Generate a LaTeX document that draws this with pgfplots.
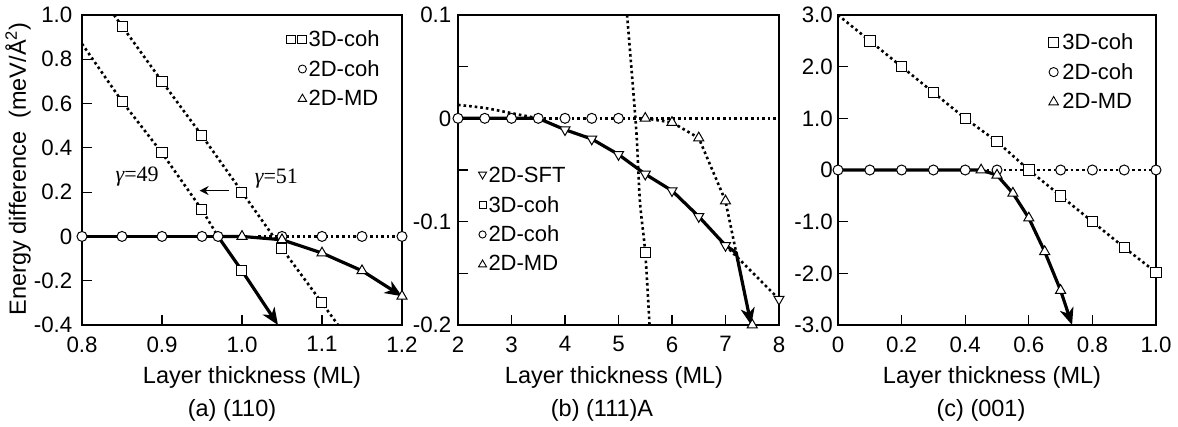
\documentclass[border=0pt]{standalone}
\usepackage{fontspec}
\setmainfont{Liberation Sans}
\newfontfamily\serifrm{Liberation Serif}
\usepackage{pgfplots}
\pgfplotsset{compat=1.18}
\usetikzlibrary{arrows.meta}

\tikzset{lg/.style={draw=black, fill=white, line width=0.9pt, line join=miter, solid}}
\pgfplotsset{
  myaxis/.style={
    scale only axis, height=310pt, anchor=south west,
    axis line style={line width=1.2pt},
    every tick/.style={line width=1.2pt, black},
    tick align=inside, tick pos=left, major tick length=10pt,
    tick label style={font=\fontsize{22.3}{25}\selectfont},
    xticklabel style={yshift=-8pt},
    /pgf/number format/assume math mode=true,
    clip=false,
    legend style={draw=none, fill=none, font=\fontsize{22}{25}\selectfont,
      row sep=9.2pt, inner sep=0pt, nodes={inner sep=1.5pt}},
    legend cell align=left,
  },
  dotl/.style={black, line width=2.6pt, dash pattern=on 2.6pt off 3.0pt, no marks, forget plot},
  thk/.style={black, line width=3.2pt, no marks, forget plot, line join=round},
  arr/.style={-{Stealth[length=17pt,width=14pt,inset=5pt]}},
  mk/.style={only marks, forget plot, mark options={fill=white, draw=black, line width=1pt, solid}},
  mkdown/.style={only marks, forget plot, mark options={rotate=180, fill=white, draw=black, line width=1pt, solid}},
}

\begin{document}
\begin{tikzpicture}
\path (0pt,0pt) rectangle (1178pt,-427pt);

% ---------------- (a) (110) ----------------
\begin{axis}[myaxis, at={(82pt,-325pt)}, width=320pt,
  yticklabel style={inner sep=1.5pt, xshift=-8pt},
  xmin=0.8, xmax=1.2, ymin=-0.4, ymax=1.0,
  xtick={0.8,0.9,1.0,1.1,1.2}, xticklabels={0.8,0.9,1.0,1.1,1.2},
  ytick={-0.4,-0.2,0,0.2,0.4,0.6,0.8,1.0},
  yticklabels={-0.4,-0.2,0,0.2,0.4,0.6,0.8,1.0},
  legend style={at={(0.935,0.955)}, anchor=north east}]
\addplot[dotl] coordinates {(0.84,1.0)(0.85,0.95)(0.9,0.70)(0.95,0.455)(1.0,0.20)(1.05,-0.055)(1.1,-0.30)(1.12,-0.40)};
\addplot[dotl] coordinates {(0.8,0.87)(0.85,0.61)(0.9,0.377)(0.95,0.12)(0.97,0.0)};
\addplot[dotl] coordinates {(1.02,0)(1.2,0)};
\addplot[thk] coordinates {(0.8,0)(0.97,0)};
\addplot[thk, arr] coordinates {(0.97,0)(1.0,-0.155)(1.045,-0.4)};
\addplot[thk, arr] coordinates {(0.97,0)(1.0,0)(1.05,-0.015)(1.1,-0.075)(1.15,-0.155)(1.2,-0.27)};
\addplot[mk, mark=square*, mark size=5pt] coordinates {(0.85,0.95)(0.9,0.70)(0.95,0.455)(1.0,0.20)(1.05,-0.055)(1.1,-0.30)(0.85,0.61)(0.9,0.377)(0.95,0.12)(1.0,-0.155)};
\addplot[mk, mark=*, mark size=5pt] coordinates {(0.8,0)(0.85,0)(0.9,0)(0.95,0)(0.97,0)(1.05,0)(1.1,0)(1.15,0)(1.2,0)};
\addplot[mk, mark=triangle*, mark size=5.8pt] coordinates {(1.0,0)(1.05,-0.015)(1.1,-0.075)(1.15,-0.155)(1.2,-0.27)};
\addlegendimage{legend image code/.code={\draw[lg] (0pt,-4.3pt) rectangle (8.6pt,4.3pt) (11pt,-4.3pt) rectangle (19.6pt,4.3pt);}}
\addlegendentry{3D-coh}
\addlegendimage{legend image code/.code={\path[draw=none,fill=none] (0pt,0pt) -- (19.6pt,0pt); \draw[lg] (15.6pt,0pt) circle (4pt);}}
\addlegendentry{2D-coh}
\addlegendimage{legend image code/.code={\path[draw=none,fill=none] (0pt,0pt) -- (19.6pt,0pt); \draw[lg] (15.6pt,4.2pt) -- (11.4pt,-3pt) -- (19.8pt,-3pt) -- cycle;}}
\addlegendentry{2D-MD}
\node[font=\serifrm\fontsize{22}{24}\selectfont] at (axis cs:0.869,0.27) {{\itshape γ}=49};
\node[font=\serifrm\fontsize{22}{24}\selectfont] at (axis cs:1.043,0.26) {{\itshape γ}=51};
\draw[line width=1.8pt, -{Stealth[length=9pt,width=9pt]}] (axis cs:0.984,0.207) -- (axis cs:0.947,0.207);
\end{axis}

% ---------------- (b) (111)A ----------------
\begin{axis}[myaxis, at={(458pt,-325pt)}, width=321pt,
  yticklabel style={inner sep=1.5pt, xshift=-5pt},
  xmin=2, xmax=8, ymin=-0.2, ymax=0.1,
  xtick={2,3,4,5,6,7,8}, xticklabels={2,3,4,5,6,7,8},
  ytick={-0.2,-0.15,-0.1,-0.05,0,0.05,0.1},
  yticklabels={-0.2,,-0.1,,0,,0.1},
  legend style={at={(0.062,0.515)}, anchor=north west}]
\addplot[dotl] coordinates {(3.5,0)(8,0)};
\addplot[dotl, smooth] coordinates {(2,0.013)(2.5,0.01)(3,0.005)(3.5,0)};
\addplot[dotl, smooth] coordinates {(5.16,0.1)(5.33,-0.01)(5.4,-0.08)(5.5,-0.13)(5.58,-0.2)};
\addplot[dotl] coordinates {(5.5,0)(6,-0.004)(6.5,-0.019)(7,-0.08)(7.2,-0.13)};
\addplot[dotl] coordinates {(7,-0.123)(8,-0.175)};
\addplot[thk, arr] coordinates {(2,0)(3.5,0)(4,-0.011)(4.5,-0.02)(5,-0.035)(5.5,-0.054)(6,-0.07)(6.5,-0.095)(7,-0.123)(7.2,-0.13)(7.48,-0.2)};
\addplot[mk, mark=square*, mark size=5pt] coordinates {(5.5,-0.13)};
\addplot[mk, mark=*, mark size=5pt] coordinates {(2,0)(2.5,0)(3,0)(3.5,0)(4,0)(4.5,0)(5,0)};
\addplot[mk, mark=triangle*, mark size=5.8pt] coordinates {(5.5,0)(6,-0.004)(6.5,-0.019)(7,-0.08)(7.5,-0.2)};
\addplot[mkdown, mark=triangle*, mark size=5.8pt] coordinates {(4,-0.011)(4.5,-0.02)(5,-0.035)(5.5,-0.054)(6,-0.07)(6.5,-0.095)(7,-0.123)(8,-0.175)};
\addlegendimage{legend image code/.code={\draw[lg] (4pt,-3.5pt) -- (0pt,3.3pt) -- (8pt,3.3pt) -- cycle;}}
\addlegendentry{2D-SFT}
\addlegendimage{legend image code/.code={\draw[lg] (0.5pt,-3.5pt) rectangle (7.5pt,3.5pt);}}
\addlegendentry{3D-coh}
\addlegendimage{legend image code/.code={\draw[lg] (4pt,0pt) circle (3.6pt);}}
\addlegendentry{2D-coh}
\addlegendimage{legend image code/.code={\draw[lg] (4pt,3.8pt) -- (0pt,-3pt) -- (8pt,-3pt) -- cycle;}}
\addlegendentry{2D-MD}
\end{axis}

% ---------------- (c) (001) ----------------
\begin{axis}[myaxis, at={(838pt,-325pt)}, width=318pt,
  yticklabel style={inner sep=1.5pt, xshift=-3.5pt},
  xmin=0, xmax=1.0, ymin=-3, ymax=3,
  xtick={0,0.2,0.4,0.6,0.8,1.0}, xticklabels={0,0.2,0.4,0.6,0.8,1.0},
  ytick={-3,-2,-1,0,1,2,3},
  yticklabels={-3.0,-2.0,-1.0,0,1.0,2.0,3.0},
  legend style={at={(0.934,0.945)}, anchor=north east, column sep=2pt}]
\addplot[dotl] coordinates {(0,3.0)(0.1,2.5)(0.2,2.0)(0.3,1.5)(0.4,1.0)(0.5,0.55)(0.6,0)(0.7,-0.5)(0.8,-1.0)(0.9,-1.5)(1.0,-1.98)};
\addplot[dotl] coordinates {(0.45,0)(1.0,0)};
\addplot[thk, arr] coordinates {(0,0)(0.45,0)(0.5,-0.1)(0.55,-0.45)(0.6,-0.93)(0.65,-1.58)(0.7,-2.33)(0.736,-3.0)};
\addplot[mk, mark=*, mark size=5pt] coordinates {(0,0)(0.1,0)(0.2,0)(0.3,0)(0.4,0)(0.5,0)(0.6,0)(0.7,0)(0.8,0)(0.9,0)(1.0,0)};
\addplot[mk, mark=square*, mark size=5.2pt] coordinates {(0.1,2.5)(0.2,2.0)(0.3,1.5)(0.4,1.0)(0.5,0.55)(0.6,0)(0.7,-0.5)(0.8,-1.0)(0.9,-1.5)(1.0,-1.98)};
\addplot[mk, mark=triangle*, mark size=5.8pt] coordinates {(0.45,0)(0.5,-0.1)(0.55,-0.45)(0.6,-0.93)(0.65,-1.58)(0.7,-2.33)};
\addlegendimage{legend image code/.code={\draw[lg] (0pt,-4.8pt) rectangle (9.6pt,4.8pt);}}
\addlegendentry{3D-coh}
\addlegendimage{legend image code/.code={\draw[lg] (4.8pt,0pt) circle (4.6pt);}}
\addlegendentry{2D-coh}
\addlegendimage{legend image code/.code={\draw[lg] (4.8pt,5pt) -- (0pt,-3.4pt) -- (9.6pt,-3.4pt) -- cycle;}}
\addlegendentry{2D-MD}
\end{axis}

% labels
\node[font=\fontsize{23.5}{26}\selectfont, rotate=90] at (18pt,-169pt) {Energy difference\ \ (meV/Å\textsuperscript{2})};
\node[font=\fontsize{23.5}{26}\selectfont] at (252pt,-377pt) {Layer thickness (ML)};
\node[font=\fontsize{23.5}{26}\selectfont] at (614pt,-377pt) {Layer thickness (ML)};
\node[font=\fontsize{23.5}{26}\selectfont] at (992pt,-377pt) {Layer thickness (ML)};
\node[font=\fontsize{23.5}{26}\selectfont] at (232pt,-410pt) {(a) (110)};
\node[font=\fontsize{23.5}{26}\selectfont] at (602pt,-410pt) {(b) (111)A};
\node[font=\fontsize{23.5}{26}\selectfont] at (981pt,-410pt) {(c) (001)};
\end{tikzpicture}
\end{document}
